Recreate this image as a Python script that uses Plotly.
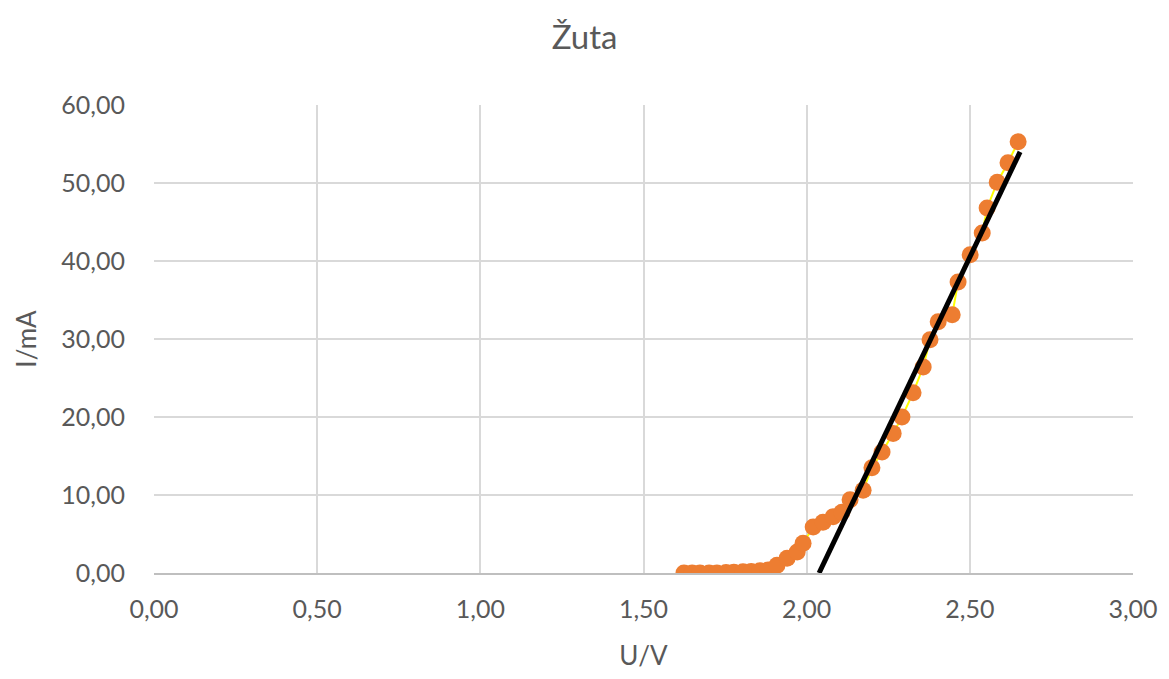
import plotly.graph_objects as go

# mjerenja (U u voltima, I u mA)
napon = [1.624, 1.649, 1.673, 1.701, 1.725, 1.753, 1.777, 1.805, 1.830, 1.857, 1.882,
         1.909, 1.940, 1.971, 1.989, 2.020, 2.050, 2.081, 2.108, 2.133, 2.173,
         2.200, 2.231, 2.265, 2.292, 2.326, 2.357, 2.378, 2.403, 2.446, 2.464,
         2.501, 2.538, 2.553, 2.584, 2.617, 2.648]
struja = [0.0, 0.0, 0.0, 0.0, 0.0, 0.05, 0.1, 0.15, 0.2, 0.3, 0.4,
          1.0, 1.9, 2.7, 3.8, 5.9, 6.5, 7.2, 7.8, 9.4, 10.6,
          13.5, 15.5, 17.9, 20.0, 23.1, 26.4, 29.9, 32.2, 33.1, 37.3,
          40.8, 43.6, 46.8, 50.1, 52.6, 55.3]

# linearni pravac (krajnje tocke)
pravac_u = [2.038, 2.654]
pravac_i = [0.0, 54.0]

x_ticks = [0, 0.5, 1.0, 1.5, 2.0, 2.5, 3.0]
y_ticks = [0, 10, 20, 30, 40, 50, 60]

fig = go.Figure()

fig.add_trace(go.Scatter(x=napon, y=struja, mode='lines', line=dict(color='#FFFF00', width=2),
                         showlegend=False))
fig.add_trace(go.Scatter(x=napon, y=struja, mode='markers',
                         marker=dict(color='#ED7D31', size=17), showlegend=False))
fig.add_trace(go.Scatter(x=pravac_u, y=pravac_i, mode='lines', line=dict(color='black', width=5),
                         showlegend=False))

font = 'Lato, Open Sans, sans-serif'
siva = '#595959'

fig.update_xaxes(range=[0, 3], tickvals=x_ticks, tickformat='.2f', showgrid=True, gridcolor='#d9d9d9',
                 gridwidth=2, zeroline=False, showline=True, linecolor='#bfbfbf', linewidth=2,
                 automargin=False,
                 ticklabelstandoff=13, tickfont=dict(size=25, color=siva),
                 title=dict(text='U/V', font=dict(size=26, color=siva), standoff=37))
fig.update_yaxes(range=[0, 60], tickvals=y_ticks, tickformat='.2f', showgrid=True, gridcolor='#d9d9d9',
                 gridwidth=2, zeroline=False, showline=False, automargin=False,
                 ticklabelstandoff=28, tickfont=dict(size=25, color=siva),
                 title=dict(text='I/mA', font=dict(size=26, color=siva), standoff=17))

# stranica ima 8 px margine, pa je figura manja od prozora
fig.update_layout(
    width=1153, height=663,
    title=dict(text='Žuta', x=0.5, xanchor='center', y=0.956, yanchor='middle',
               font=dict(size=33, color=siva)),
    font=dict(family=font, color=siva),
    separators=', ',
    plot_bgcolor='white', paper_bgcolor='white',
    margin=dict(l=146, r=28, t=97, b=98),
)

fig.write_html('out.html')
